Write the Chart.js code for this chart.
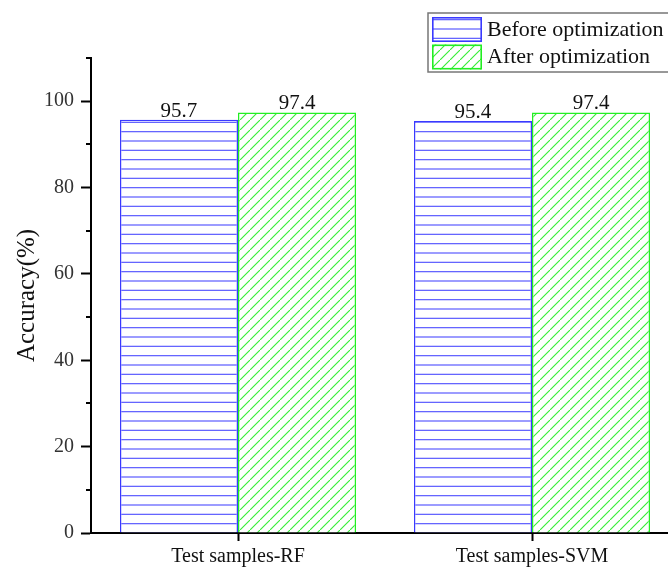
<!DOCTYPE html>
<html><head><meta charset="utf-8">
<script src="https://cdn.jsdelivr.net/npm/chart.js@4/dist/chart.umd.min.js"></script>
<style>
html,body{margin:0;padding:0;overflow:hidden;background:#fff;width:668px;height:570px;}
#wrap{position:relative;width:680px;height:570px;}
canvas{display:block;}
</style></head>
<body>
<div id="wrap"><canvas id="c" width="680" height="570" style="width:680px;height:570px"></canvas></div>
<script>
const categories = ["Test samples-RF", "Test samples-SVM"];
const seriesNames = ["Before optimization", "After optimization"];
const beforeValues = [95.7, 95.4];
const afterValues = [97.4, 97.4];
const yTicks = [0, 20, 40, 60, 80, 100];

const FONT = "'Liberation Serif', 'Times New Roman', serif";

function hPattern(color){
  const c = document.createElement('canvas'); c.width = 8; c.height = 28;
  const g = c.getContext('2d');
  g.fillStyle = '#fff'; g.fillRect(0,0,8,28);
  g.strokeStyle = color; g.lineWidth = 1.2;
  [1, 10.33, 19.67].forEach(y => { g.beginPath(); g.moveTo(0,y); g.lineTo(8,y); g.stroke(); });
  g.beginPath(); g.moveTo(0,29); g.lineTo(8,29); g.stroke();
  return g.createPattern(c, 'repeat');
}
function dPattern(color){
  const s = 10;
  const c = document.createElement('canvas'); c.width = s; c.height = s;
  const g = c.getContext('2d');
  g.fillStyle = '#fff'; g.fillRect(0,0,s,s);
  g.strokeStyle = color; g.lineWidth = 1.1;
  g.beginPath(); g.moveTo(-1, s+1); g.lineTo(s+1, -1); g.stroke();
  g.beginPath(); g.moveTo(-2, 1); g.lineTo(1, -2); g.stroke();
  g.beginPath(); g.moveTo(s-1, s+2); g.lineTo(s+2, s-1); g.stroke();
  return g.createPattern(c, 'repeat');
}

const blueBorder = '#3a3aff', blueLine = '#5a5aff';
const greenBorder = '#22ee22', greenLine = '#33ee33';

const valueLabels = {
  id: 'valueLabels',
  afterDatasetsDraw(chart){
    const ctx = chart.ctx;
    ctx.save();
    ctx.font = '21px ' + FONT;
    ctx.fillStyle = '#111';
    ctx.textAlign = 'center';
    ctx.textBaseline = 'alphabetic';
    chart.data.datasets.forEach((ds, i) => {
      chart.getDatasetMeta(i).data.forEach((bar, j) => {
        ctx.fillText(ds.data[j].toFixed(1), bar.x, bar.y - 3);
      });
    });
    ctx.restore();
  }
};

const minorTicks = {
  id: 'minorTicks',
  afterDraw(chart){
    const ctx = chart.ctx, y = chart.scales.y, left = chart.chartArea.left;
    ctx.save();
    ctx.strokeStyle = '#000'; ctx.lineWidth = 2;
    for (let v = 10; v <= 110; v += 20){
      const py = Math.round(y.getPixelForValue(v));
      ctx.beginPath(); ctx.moveTo(left - 5, py); ctx.lineTo(left, py); ctx.stroke();
    }
    ctx.restore();
  }
};

const boxLegend = {
  id: 'boxLegend',
  afterDraw(chart){
    const ctx = chart.ctx;
    ctx.save();
    const x0 = 428, y0 = 13, w = 260, h = 59;
    ctx.fillStyle = '#fff'; ctx.fillRect(x0, y0, w, h);
    ctx.strokeStyle = '#777'; ctx.lineWidth = 1.5;
    ctx.strokeRect(x0, y0, w, h);
    ctx.font = '22px ' + FONT;
    ctx.textBaseline = 'middle';
    ctx.textAlign = 'left';
    chart.data.datasets.forEach((ds, i) => {
      const sy = 17 + i * 27.5;
      ctx.fillStyle = ds.backgroundColor;
      ctx.fillRect(432, sy, 50, 25);
      ctx.strokeStyle = ds.borderColor; ctx.lineWidth = 1.6;
      ctx.strokeRect(432.8, sy + 0.8, 48.4, 23.4);
      ctx.fillStyle = '#111';
      ctx.fillText(ds.label, 487, sy + 13);
    });
    ctx.restore();
  }
};

new Chart(document.getElementById('c'), {
  type: 'bar',
  data: {
    labels: categories,
    datasets: [
      { label: seriesNames[0], data: beforeValues, backgroundColor: hPattern(blueLine), borderColor: blueBorder, borderWidth: 1.5 },
      { label: seriesNames[1], data: afterValues, backgroundColor: dPattern(greenLine), borderColor: greenBorder, borderWidth: 1.5 }
    ]
  },
  options: {
    responsive: false,
    animation: false,
    devicePixelRatio: 1,
    layout: { padding: { top: 58, right: 1, left: 0, bottom: 0 } },
    datasets: { bar: { categoryPercentage: 0.803, barPercentage: 1.0 } },
    plugins: { legend: { display: false }, tooltip: { enabled: false } },
    scales: {
      x: {
        offset: true,
        grid: { offset: false, drawOnChartArea: false, drawTicks: true, tickLength: 8, tickWidth: 2, tickColor: '#000' },
        border: { display: true, color: '#000', width: 2 },
        ticks: { color: '#111', font: { family: FONT, size: 20 }, padding: 4, maxRotation: 0 },
        afterFit(s){ s.height = 37; }
      },
      y: {
        min: 0, max: 110,
        afterBuildTicks(s){ s.ticks = yTicks.map(v => ({ value: v })); },
        grid: { drawOnChartArea: false, drawTicks: true, tickLength: 10, tickWidth: 2, tickColor: '#000' },
        border: { display: true, color: '#000', width: 2 },
        ticks: { color: '#333', font: { family: FONT, size: 20 }, padding: 7 },
        title: { display: true, text: 'Accuracy(%)', color: '#111', font: { family: FONT, size: 25 }, padding: { top: 12, bottom: 0 } },
        afterFit(s){ s.width = 91; }
      }
    }
  },
  plugins: [valueLabels, minorTicks, boxLegend]
});
</script>
</body></html>
